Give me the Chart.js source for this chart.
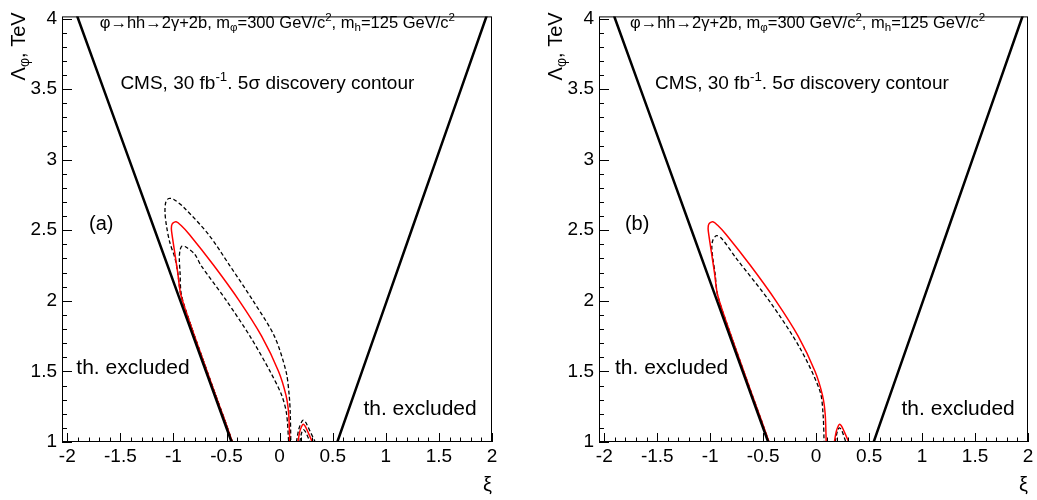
<!DOCTYPE html>
<html>
<head>
<meta charset="utf-8">
<script src="https://cdn.jsdelivr.net/npm/chart.js@4.4.0/dist/chart.umd.min.js"></script>
<style>
html, body { margin: 0; padding: 0; background: #fff; }
#wrap { position: relative; width: 1037px; height: 500px; overflow: hidden; }
canvas { position: absolute; top: 0; }
</style>
</head>
<body>
<div id="wrap">
  <canvas id="panelA" width="518" height="500" style="left:0"></canvas>
  <canvas id="panelB" width="519" height="500" style="left:518px"></canvas>
</div>
<script>
// --- axes ---
const X_MIN = -2.05, X_MAX = 2.0;
const Y_MIN = 1.0, Y_MAX = 4.015;
const X_TICKS = [-2, -1.5, -1, -0.5, 0, 0.5, 1, 1.5, 2];
const Y_TICKS = [1, 1.5, 2, 2.5, 3, 3.5, 4];

// --- theoretical boundary (same in both panels) ---
const TH_LEFT_XI  = [-0.453, -0.694, -0.935, -1.176, -1.417, -1.658, -1.899, -1.912];
const TH_LEFT_LAM = [1.0, 1.5, 2.0, 2.5, 3.0, 3.5, 4.0, 4.03];
const TH_RIGHT_XI  = [0.543, 0.776, 1.009, 1.242, 1.475, 1.708, 1.941, 1.955];
const TH_RIGHT_LAM = [1.0, 1.5, 2.0, 2.5, 3.0, 3.5, 4.0, 4.03];

// --- 5 sigma contour (red, both panels) ---
const RED_XI  = [-0.445, -0.515, -0.607, -0.718, -0.828, -0.930, -0.960, -0.990, -1.010, -1.020, -1.012, -0.975, -0.930, -0.850, -0.620, -0.380, -0.170, -0.010, 0.060, 0.085, 0.095];
const RED_LAM = [1.0, 1.15, 1.34, 1.574, 1.807, 2.041, 2.200, 2.350, 2.450, 2.510, 2.545, 2.560, 2.535, 2.470, 2.250, 2.000, 1.750, 1.500, 1.330, 1.200, 1.0];
const RED_BUMP_XI  = [0.172, 0.190, 0.210, 0.223, 0.240, 0.270, 0.308];
const RED_BUMP_LAM = [1.0, 1.075, 1.115, 1.125, 1.112, 1.065, 1.0];

// --- panel (a) dashed contours ---
const A_OUT_XI  = [-0.445, -0.515, -0.607, -0.718, -0.828, -0.930, -0.960, -0.985, -1.035, -1.066, -1.080, -1.072, -1.045, -1.000, -0.900, -0.670, -0.470, -0.250, -0.050, 0.060, 0.090, 0.100, 0.105];
const A_OUT_LAM = [1.0, 1.15, 1.34, 1.574, 1.807, 2.041, 2.200, 2.300, 2.415, 2.532, 2.630, 2.700, 2.725, 2.720, 2.660, 2.470, 2.250, 2.000, 1.750, 1.500, 1.330, 1.200, 1.0];
const A_IN_XI  = [-0.445, -0.515, -0.607, -0.718, -0.828, -0.925, -0.938, -0.945, -0.938, -0.920, -0.880, -0.800, -0.740, -0.500, -0.280, -0.090, 0.020, 0.065, 0.085];
const A_IN_LAM = [1.0, 1.15, 1.34, 1.574, 1.807, 2.041, 2.200, 2.300, 2.360, 2.388, 2.380, 2.330, 2.250, 2.000, 1.750, 1.500, 1.330, 1.200, 1.0];
const A_OUT_BUMP_XI  = [0.158, 0.180, 0.205, 0.223, 0.245, 0.290, 0.335];
const A_OUT_BUMP_LAM = [1.0, 1.090, 1.140, 1.155, 1.140, 1.070, 1.0];
const A_IN_BUMP_XI  = [0.190, 0.205, 0.223, 0.245, 0.286];
const A_IN_BUMP_LAM = [1.0, 1.060, 1.088, 1.070, 1.0];

// --- panel (b) dashed contour ---
const B_DASH_XI  = [-0.445, -0.515, -0.607, -0.718, -0.828, -0.930, -0.955, -0.975, -0.985, -0.975, -0.940, -0.890, -0.751, -0.437, -0.154, 0.035, 0.065, 0.075];
const B_DASH_LAM = [1.0, 1.15, 1.34, 1.574, 1.807, 2.041, 2.200, 2.300, 2.380, 2.430, 2.462, 2.440, 2.298, 1.994, 1.667, 1.363, 1.200, 1.0];
const B_BUMP_XI  = [0.180, 0.200, 0.219, 0.240, 0.280];
const B_BUMP_LAM = [1.0, 1.075, 1.100, 1.085, 1.0];

// --- texts ---
const DECAY_LABEL = [['φ→hh→2γ+2b, m', ''], ['φ', 'sub'], ['=300 GeV/c', ''], ['2', 'sup'], [', m', ''], ['h', 'sub'], ['=125 GeV/c', ''], ['2', 'sup']];
const CMS_LABEL = [['CMS, 30 fb', ''], ['-1', 'sup'], ['. 5σ discovery contour', '']];
const Y_TITLE = [['Λ', ''], ['φ', 'sub'], [', TeV', '']];
const X_TITLE = 'ξ';
const EXCL_LABEL = 'th. excluded';

const FONT = '"Liberation Sans", Arial, Helvetica, sans-serif';

// --- helpers ---
function pts(xs, ys) { return xs.map((v, i) => ({ x: v, y: ys[i] })); }

function curve(xs, ys, style) {
    return Object.assign({ data: pts(xs, ys), showLine: true, pointRadius: 0, fill: false, tension: 0.3 }, style);
}

const TH_STYLE = { borderColor: '#000', borderWidth: 2.5, tension: 0 };
const RED_STYLE = { borderColor: '#ff0000', borderWidth: 1.5 };
const DASH_STYLE = { borderColor: '#000', borderWidth: 1.3, borderDash: [4, 2.5] };

function drawRuns(ctx, runs, x, y, size, align) {
    const parts = runs.map(([t, m]) => {
        const s = m ? size * 0.7 : size;
        ctx.font = s + 'px ' + FONT;
        return { t, m, s, w: ctx.measureText(t).width };
    });
    const total = parts.reduce((a, p) => a + p.w, 0);
    let cx = align === 'right' ? x - total : x;
    parts.forEach(p => {
        ctx.font = p.s + 'px ' + FONT;
        const dy = p.m === 'sub' ? size * 0.22 : p.m === 'sup' ? -size * 0.42 : 0;
        ctx.fillText(p.t, cx, y + dy);
        cx += p.w;
    });
}

// ROOT-like frame with inward ticks
const framePlugin = {
    id: 'rootFrame',
    afterDatasetsDraw(chart) {
        const { ctx, chartArea: a, scales: { x, y } } = chart;
        ctx.save();
        ctx.strokeStyle = '#000';
        ctx.lineWidth = 1;
        ctx.beginPath();
        for (let i = -20; i <= 20; i++) {
            const px = Math.round(x.getPixelForValue(i / 10)) + 0.5;
            const len = i % 5 === 0 ? 9 : 4.5;
            ctx.moveTo(px, a.bottom);
            ctx.lineTo(px, a.bottom - len);
        }
        for (let i = 10; i <= 40; i++) {
            const py = Math.round(y.getPixelForValue(i / 10)) + 0.5;
            const len = i % 5 === 0 ? 10 : 5;
            ctx.moveTo(a.left, py);
            ctx.lineTo(a.left + len, py);
        }
        ctx.stroke();
        ctx.strokeRect(a.left + 0.5, a.top + 0.5, a.right - a.left - 1, a.bottom - a.top - 1);
        ctx.restore();
    }
};

const labelsPlugin = {
    id: 'panelLabels',
    afterDraw(chart, args, o) {
        const { ctx, chartArea: a, scales: { x, y } } = chart;
        const px = v => x.getPixelForValue(v);
        const py = v => y.getPixelForValue(v);
        ctx.save();
        ctx.fillStyle = '#000';
        ctx.textAlign = 'left';
        ctx.textBaseline = 'alphabetic';
        drawRuns(ctx, DECAY_LABEL, px(o.decay[0]), py(o.decay[1]), 16.5);
        drawRuns(ctx, CMS_LABEL, px(o.cms[0]), py(o.cms[1]), 19);
        drawRuns(ctx, [[o.letter, '']], px(o.letterPos[0]), py(o.letterPos[1]), 20);
        drawRuns(ctx, [[EXCL_LABEL, '']], px(o.exclL[0]), py(o.exclL[1]), 21);
        drawRuns(ctx, [[EXCL_LABEL, '']], px(o.exclR[0]), py(o.exclR[1]), 21);
        drawRuns(ctx, [[X_TITLE, '']], a.right, 491, 20, 'right');
        ctx.translate(a.left - 37, a.top - 4);
        ctx.rotate(-Math.PI / 2);
        drawRuns(ctx, Y_TITLE, 0, 0, 20, 'right');
        ctx.restore();
    }
};

function makePanel(id, yWidth, padRight, datasets, labelOpts) {
    const tickFont = { family: FONT, size: 19 };
    return new Chart(document.getElementById(id).getContext('2d'), {
        type: 'scatter',
        data: { datasets },
        options: {
            responsive: false,
            animation: false,
            devicePixelRatio: 1,
            layout: { padding: { top: 12, right: padRight, left: 0, bottom: 0 } },
            plugins: { legend: { display: false }, tooltip: { enabled: false }, panelLabels: labelOpts },
            scales: {
                x: {
                    type: 'linear', min: X_MIN, max: X_MAX,
                    grid: { display: false, drawTicks: false }, border: { display: false },
                    ticks: { font: tickFont, color: '#000', padding: 3, maxRotation: 0, autoSkip: false, callback: v => String(v) },
                    afterBuildTicks: s => { s.ticks = X_TICKS.map(v => ({ value: v })); },
                    afterFit: s => { s.height = 58; }
                },
                y: {
                    type: 'linear', min: Y_MIN, max: Y_MAX,
                    grid: { display: false, drawTicks: false }, border: { display: false },
                    ticks: { font: tickFont, color: '#000', padding: 5, autoSkip: false, callback: v => String(v) },
                    afterBuildTicks: s => { s.ticks = Y_TICKS.map(v => ({ value: v })); },
                    afterFit: s => { s.width = yWidth; }
                }
            }
        },
        plugins: [framePlugin, labelsPlugin]
    });
}

const common = () => [
    curve(TH_LEFT_XI, TH_LEFT_LAM, TH_STYLE),
    curve(TH_RIGHT_XI, TH_RIGHT_LAM, TH_STYLE),
    curve(RED_XI, RED_LAM, RED_STYLE),
    curve(RED_BUMP_XI, RED_BUMP_LAM, RED_STYLE)
];

makePanel('panelA', 62, 26, [
    ...common(),
    curve(A_OUT_XI, A_OUT_LAM, DASH_STYLE),
    curve(A_IN_XI, A_IN_LAM, DASH_STYLE),
    curve(A_OUT_BUMP_XI, A_OUT_BUMP_LAM, DASH_STYLE),
    curve(A_IN_BUMP_XI, A_IN_BUMP_LAM, DASH_STYLE)
], {
    letter: '(a)', decay: [-1.695, 3.935], cms: [-1.5, 3.5], letterPos: [-1.796, 2.50],
    exclL: [-1.915, 1.482], exclR: [0.789, 1.188]
});

makePanel('panelB', 81, 9, [
    ...common(),
    curve(B_DASH_XI, B_DASH_LAM, DASH_STYLE),
    curve(B_BUMP_XI, B_BUMP_LAM, DASH_STYLE)
], {
    letter: '(b)', decay: [-1.758, 3.935], cms: [-1.522, 3.5], letterPos: [-1.805, 2.50],
    exclL: [-1.899, 1.482], exclR: [0.806, 1.188]
});
</script>
</body>
</html>
